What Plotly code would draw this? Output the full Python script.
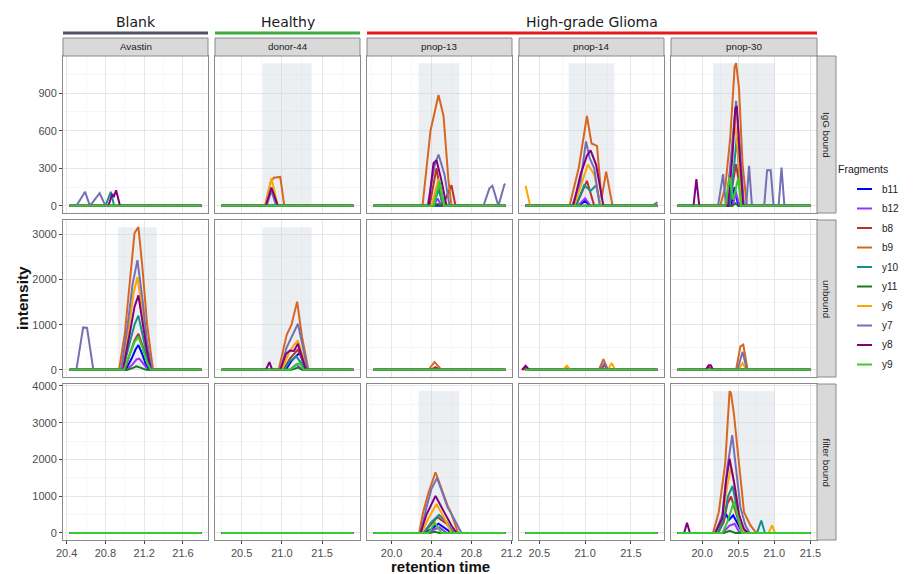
import plotly.graph_objects as go

W, H = 918, 574

# ---------------- data ----------------
samples = ["Avastin", "donor-44", "pnop-13", "pnop-14", "pnop-30"]
fractions = ["IgG bound", "unbound", "filter bound"]
fragments = ["b11", "b12", "b8", "b9", "y10", "y11", "y6", "y7", "y8", "y9"]
frag_colors = ["#0000FF", "#9B30FF", "#B8312F", "#D9661E", "#12918A",
               "#1B7A1B", "#FFA500", "#7570B3", "#800080", "#33CC33"]

groups = ["Blank", "Healthy", "High-grade Glioma"]
group_first_sample = [0, 1, 2]
group_last_sample = [0, 1, 4]
group_colors = ["#4F5563", "#3DAE3D", "#E3191C"]

# retention time window of every sample (column)
rt_start = [20.43, 20.25, 19.82, 20.35, 19.66]
rt_end = [21.79, 21.89, 21.14, 21.79, 21.50]

# highlighted elution windows (sample, fraction) -> (start, end)
window_sample = ["donor-44", "pnop-13", "pnop-14", "pnop-30", "Avastin", "donor-44", "pnop-13", "pnop-30"]
window_fraction = ["IgG bound", "IgG bound", "IgG bound", "IgG bound", "unbound", "unbound", "filter bound", "filter bound"]
window_start = [20.76, 20.27, 20.82, 20.15, 20.93, 20.76, 20.27, 20.15]
window_end = [21.37, 20.68, 21.32, 21.00, 21.33, 21.37, 20.68, 21.00]

# peaks: fragment -> list of (retention time, intensity); all other points are 0
avastin_igg = {
    "y7": [(20.50, 0), (20.59, 112), (20.64, 0), (20.74, 101), (20.80, 0)],
    "y10": [(20.80, 0), (20.855, 112), (20.89, 0)],
    "y8": [(20.83, 0), (20.87, 95), (20.885, 70), (20.91, 125), (20.95, 0)],
}
donor44_igg = {
    "b9": [(20.79, 0), (20.86, 190), (20.90, 225), (20.98, 231), (21.03, 0)],
    "y6": [(20.80, 0), (20.87, 220), (20.95, 0)],
    "y7": [(20.81, 0), (20.87, 120), (20.93, 0)],
    "y8": [(20.80, 0), (20.87, 147), (20.95, 0)],
}
pnop13_igg = {
    "b12": [(20.42, 0), (20.46, 60), (20.50, 0)],
    "b8": [(20.38, 0), (20.45, 300), (20.51, 0), (20.60, 165), (20.64, 0)],
    "b9": [(20.31, 0), (20.39, 600), (20.47, 886), (20.52, 720), (20.57, 200), (20.60, 0)],
    "y10": [(20.42, 0), (20.47, 130), (20.52, 0)],
    "y11": [(20.43, 0), (20.46, 15), (20.50, 0)],
    "y6": [(20.40, 0), (20.47, 215), (20.53, 0)],
    "y7": [(20.36, 0), (20.43, 320), (20.47, 410), (20.53, 250), (20.58, 0),
           (20.92, 0), (20.98, 140), (21.01, 160), (21.07, 0), (21.13, 170), (21.14, 175)],
    "y8": [(20.37, 0), (20.42, 340), (20.45, 365), (20.50, 200), (20.55, 0)],
    "y9": [(20.42, 0), (20.48, 200), (20.53, 0)],
}
pnop14_igg = {
    "b11": [(20.93, 0), (21.00, 40), (21.05, 0)],
    "b12": [(20.92, 0), (21.00, 60), (21.06, 0)],
    "b8": [(20.90, 0), (21.02, 200), (21.10, 0)],
    "b9": [(20.83, 0), (20.93, 300), (21.02, 718), (21.07, 498), (21.13, 479),
           (21.18, 60), (21.23, 274), (21.30, 0)],
    "y10": [(20.90, 0), (20.99, 165), (21.06, 120), (21.12, 165), (21.17, 0)],
    "y6": [(20.35, 160), (20.40, 0), (20.88, 0), (20.97, 200), (21.03, 330), (21.10, 250), (21.17, 0)],
    "y7": [(20.86, 0), (20.95, 200), (21.01, 514), (21.05, 380), (21.10, 300), (21.16, 0),
           (21.74, 0), (21.79, 30)],
    "y8": [(20.87, 0), (20.95, 250), (21.02, 400), (21.06, 444), (21.12, 330), (21.20, 0)],
}
pnop30_igg = {
    "b11": [(20.40, 0), (20.45, 150), (20.50, 0)],
    "b12": [(20.42, 0), (20.47, 100), (20.52, 0)],
    "b8": [(20.38, 0), (20.43, 200), (20.47, 333), (20.52, 150), (20.56, 0)],
    "b9": [(20.25, 0), (20.32, 150), (20.39, 546), (20.45, 1110), (20.47, 1140),
           (20.51, 945), (20.56, 333), (20.62, 0)],
    "y10": [(20.38, 0), (20.44, 300), (20.48, 550), (20.52, 200), (20.56, 0)],
    "y11": [(20.42, 0), (20.46, 20), (20.50, 0)],
    "y6": [(20.33, 0), (20.40, 350), (20.45, 700), (20.50, 400), (20.56, 0)],
    "y7": [(20.22, 0), (20.29, 253), (20.33, 0), (20.37, 200), (20.42, 500), (20.47, 838),
           (20.52, 500), (20.58, 0), (20.61, 0), (20.65, 319), (20.69, 0), (20.86, 0),
           (20.90, 285), (20.95, 285), (20.99, 0), (21.06, 0), (21.10, 306), (21.14, 0)],
    "y8": [(19.88, 0), (19.92, 213), (19.96, 0), (20.36, 0), (20.42, 400), (20.46, 780),
           (20.48, 798), (20.52, 400), (20.57, 0)],
    "y9": [(20.32, 0), (20.38, 230), (20.43, 50), (20.50, 220), (20.54, 0)],
}
avastin_unb = {
    "b11": [(21.01, 0), (21.07, 250), (21.11, 450), (21.14, 550), (21.18, 350), (21.22, 100), (21.26, 0)],
    "b12": [(21.02, 0), (21.08, 120), (21.12, 230), (21.15, 250), (21.19, 150), (21.24, 0)],
    "b8": [(21.00, 0), (21.06, 400), (21.10, 650), (21.14, 800), (21.18, 550), (21.23, 200), (21.27, 0)],
    "b9": [(20.94, 0), (21.00, 800), (21.06, 2200), (21.10, 3030), (21.14, 3160),
           (21.18, 2300), (21.23, 1000), (21.29, 0)],
    "y10": [(20.98, 0), (21.05, 600), (21.10, 1000), (21.14, 1200), (21.18, 800), (21.23, 300), (21.27, 0)],
    "y11": [(21.03, 0), (21.09, 50), (21.12, 80), (21.16, 50), (21.22, 0)],
    "y6": [(20.97, 0), (21.04, 900), (21.09, 1700), (21.13, 2050), (21.18, 1300), (21.23, 500), (21.27, 0)],
    "y7": [(20.50, 0), (20.57, 940), (20.61, 930), (20.675, 0), (20.96, 0), (21.03, 1000),
           (21.08, 1900), (21.13, 2430), (21.18, 1600), (21.23, 600), (21.28, 0)],
    "y8": [(20.98, 0), (21.05, 800), (21.10, 1400), (21.14, 1650), (21.18, 1100), (21.23, 400), (21.27, 0)],
    "y9": [(20.99, 0), (21.06, 400), (21.10, 620), (21.14, 730), (21.18, 500), (21.23, 150), (21.27, 0)],
}
donor44_unb = {
    "b11": [(21.05, 0), (21.12, 200), (21.22, 380), (21.27, 150), (21.31, 0)],
    "b12": [(21.10, 0), (21.18, 120), (21.25, 0)],
    "b8": [(21.02, 0), (21.10, 250), (21.20, 450), (21.25, 250), (21.30, 0)],
    "b9": [(20.96, 0), (21.06, 778), (21.12, 1000), (21.19, 1511), (21.25, 740), (21.33, 0)],
    "y10": [(21.03, 0), (21.10, 200), (21.18, 300), (21.24, 150), (21.29, 0)],
    "y11": [(21.12, 0), (21.20, 50), (21.26, 0)],
    "y6": [(21.00, 0), (21.08, 350), (21.15, 550), (21.20, 650), (21.25, 350), (21.31, 0)],
    "y7": [(20.98, 0), (21.06, 500), (21.14, 800), (21.20, 1020), (21.25, 600), (21.32, 0)],
    "y8": [(20.80, 0), (20.845, 170), (20.88, 0), (20.98, 0), (21.05, 350), (21.10, 430),
           (21.15, 420), (21.20, 580), (21.25, 300), (21.30, 0)],
    "y9": [(21.10, 0), (21.17, 100), (21.22, 150), (21.27, 0)],
}
pnop13_unb = {
    "b8": [(20.39, 0), (20.44, 60), (20.49, 0)],
    "b9": [(20.37, 0), (20.43, 175), (20.50, 0)],
}
pnop14_unb = {
    "b8": [(20.32, 0), (20.355, 50), (20.39, 0), (21.17, 0), (21.21, 100), (21.25, 0)],
    "b9": [(21.15, 0), (21.20, 240), (21.25, 0)],
    "y6": [(20.76, 0), (20.80, 90), (20.84, 0), (21.25, 0), (21.29, 150), (21.33, 0)],
    "y7": [(21.16, 0), (21.21, 150), (21.25, 0)],
    "y8": [(20.31, 0), (20.35, 90), (20.39, 0)],
}
pnop30_unb = {
    "b8": [(20.05, 0), (20.09, 80), (20.13, 0)],
    "b9": [(20.47, 0), (20.53, 520), (20.57, 560), (20.63, 0)],
    "y6": [(20.50, 0), (20.56, 150), (20.61, 0)],
    "y7": [(20.49, 0), (20.56, 400), (20.62, 0)],
    "y8": [(20.05, 0), (20.09, 100), (20.12, 100), (20.15, 0)],
}
pnop13_flt = {
    "b11": [(20.34, 0), (20.42, 150), (20.47, 250), (20.55, 100), (20.60, 0)],
    "b12": [(20.35, 0), (20.43, 100), (20.48, 150), (20.55, 0)],
    "b8": [(20.32, 0), (20.40, 250), (20.46, 430), (20.55, 250), (20.62, 0)],
    "b9": [(20.276, 0), (20.316, 563), (20.37, 1100), (20.44, 1651), (20.50, 1187),
           (20.56, 750), (20.60, 517), (20.666, 0)],
    "y10": [(20.32, 0), (20.40, 300), (20.476, 490), (20.55, 300), (20.62, 0)],
    "y11": [(20.38, 0), (20.43, 30), (20.48, 0)],
    "y6": [(20.30, 0), (20.37, 400), (20.45, 785), (20.52, 450), (20.60, 0)],
    "y7": [(20.29, 0), (20.35, 700), (20.40, 1200), (20.456, 1500), (20.52, 1000),
           (20.56, 700), (20.60, 517), (20.70, 0)],
    "y8": [(20.29, 0), (20.35, 500), (20.44, 1008), (20.52, 600), (20.60, 200), (20.65, 0)],
    "y9": [(20.37, 0), (20.433, 276), (20.50, 0)],
}
pnop30_flt = {
    "b11": [(20.22, 0), (20.33, 517), (20.37, 350), (20.43, 480), (20.50, 200), (20.56, 0)],
    "b12": [(20.28, 0), (20.38, 200), (20.45, 250), (20.52, 0)],
    "b8": [(20.22, 0), (20.30, 300), (20.35, 800), (20.40, 991), (20.46, 600), (20.53, 150), (20.60, 0)],
    "b9": [(20.15, 0), (20.23, 563), (20.32, 1903), (20.38, 3860), (20.40, 3800), (20.44, 3243),
           (20.51, 1900), (20.58, 563), (20.67, 204), (20.75, 0)],
    "y10": [(20.22, 0), (20.30, 400), (20.36, 1000), (20.42, 1276), (20.48, 700), (20.55, 200),
            (20.62, 0), (20.76, 0), (20.82, 338), (20.87, 0)],
    "y11": [(20.30, 0), (20.38, 60), (20.46, 0)],
    "y6": [(20.18, 0), (20.28, 400), (20.35, 1300), (20.40, 1800), (20.46, 1200), (20.52, 400),
           (20.58, 0), (20.92, 0), (20.97, 204), (21.01, 0)],
    "y7": [(20.18, 0), (20.28, 500), (20.35, 1800), (20.417, 2661), (20.47, 1800), (20.53, 700),
           (20.60, 200), (20.66, 0)],
    "y8": [(19.75, 0), (19.79, 276), (19.83, 0), (20.18, 0), (20.28, 400), (20.33, 1400),
           (20.38, 2018), (20.44, 1400), (20.51, 500), (20.58, 100), (20.64, 0)],
    "y9": [(20.28, 0), (20.35, 300), (20.44, 847), (20.50, 400), (20.55, 0)],
}
empty = {}

panel_peaks = [
    [avastin_igg, donor44_igg, pnop13_igg, pnop14_igg, pnop30_igg],
    [avastin_unb, donor44_unb, pnop13_unb, pnop14_unb, pnop30_unb],
    [empty, empty, pnop13_flt, empty, pnop30_flt],
]

# axis ticks
x_tick0 = [20.4, 20.5, 20.0, 20.5, 20.0]
x_dtick = [0.4, 0.5, 0.4, 0.5, 0.5]
y_dtick = [300, 1000, 1000]

# ---------------- layout geometry (pixels) ----------------
col_px = [(63, 208), (215, 360), (367, 512), (519, 664), (671, 817)]
row_px = [(56, 213), (220, 377), (384, 540)]
strip_top = 38
strip_right = 836
FONT = "Liberation Sans, Arial, sans-serif"


def px(x):
    return x / W


def py(y):
    return 1 - y / H


def full_series(pts, t0, t1):
    xs = [p[0] for p in pts]
    ys = [p[1] for p in pts]
    if not xs or xs[0] > t0 + 1e-6:
        xs = [t0] + xs
        ys = [0] + ys
    if xs[-1] < t1 - 1e-6:
        xs = xs + [t1]
        ys = ys + [0]
    return xs, ys


fig = go.Figure()

row_max = []
for r in range(3):
    m = 0
    for c in range(5):
        for f, pts in panel_peaks[r][c].items():
            for _, v in pts:
                m = max(m, v)
    row_max.append(m)

for fi, frag in enumerate(fragments):
    for r in range(3):
        for c in range(5):
            k = r * 5 + c + 1
            pts = panel_peaks[r][c].get(frag, [])
            xs, ys = full_series(pts, rt_start[c], rt_end[c])
            fig.add_trace(go.Scatter(
                x=xs, y=ys, mode="lines",
                line=dict(color=frag_colors[fi], width=2),
                name=frag, showlegend=False,
                xaxis=f"x{k}", yaxis=f"y{k}", hoverinfo="skip"))

layout = dict(
    width=W, height=H, autosize=False,
    margin=dict(l=0, r=0, t=0, b=0, pad=0, autoexpand=False),
    paper_bgcolor="white", plot_bgcolor="white", showlegend=False,
    font=dict(family=FONT, color="#4D4D4D", size=11),
)

shapes = []
annotations = []


def note(x, y, text, size, color="#1A1A1A", xanchor="center", yanchor="middle",
         angle=0, family=FONT):
    annotations.append(dict(xref="paper", yref="paper", x=x, y=y, text=text,
                            showarrow=False, xanchor=xanchor, yanchor=yanchor,
                            textangle=angle,
                            font=dict(family=family, size=size, color=color)))


for r in range(3):
    for c in range(5):
        k = r * 5 + c + 1
        span = rt_end[c] - rt_start[c]
        ymax = row_max[r]
        xa = dict(
            domain=[px(col_px[c][0]), px(col_px[c][1])],
            range=[rt_start[c] - 0.05 * span, rt_end[c] + 0.05 * span],
            anchor=f"y{k}", tick0=x_tick0[c], dtick=x_dtick[c], tickmode="linear",
            tickformat=".1f", showgrid=True, gridcolor="#E6E6E6", gridwidth=1,
            minor=dict(showgrid=True, gridcolor="#F2F2F2", gridwidth=0.6,
                       dtick=x_dtick[c] / 2, tick0=x_tick0[c]),
            showline=True, linecolor="#8A8A8A", linewidth=1, mirror=True,
            zeroline=False, fixedrange=True, automargin=False,
            showticklabels=(r == 2), ticks="outside" if r == 2 else "",
            ticklen=3, tickcolor="#444444",
            tickfont=dict(family=FONT, size=11, color="#4D4D4D"),
        )
        ya = dict(
            domain=[py(row_px[r][1]), py(row_px[r][0])],
            range=[-0.05 * ymax, 1.05 * ymax],
            anchor=f"x{k}", tick0=0, dtick=y_dtick[r], tickmode="linear",
            showgrid=True, gridcolor="#E6E6E6", gridwidth=1,
            minor=dict(showgrid=True, gridcolor="#F2F2F2", gridwidth=0.6,
                       dtick=y_dtick[r] / 2, tick0=0),
            showline=True, linecolor="#8A8A8A", linewidth=1, mirror=True,
            zeroline=False, fixedrange=True, automargin=False,
            showticklabels=(c == 0), ticks="outside" if c == 0 else "",
            ticklen=3, tickcolor="#444444",
            tickfont=dict(family=FONT, size=11, color="#4D4D4D"),
        )
        layout[f"xaxis{k}"] = xa
        layout[f"yaxis{k}"] = ya

# highlighted windows
for s, fr, x0, x1 in zip(window_sample, window_fraction, window_start, window_end):
    c = samples.index(s)
    r = fractions.index(fr)
    k = r * 5 + c + 1
    shapes.append(dict(type="rect", xref=f"x{k}", yref=f"y{k}", x0=x0, x1=x1,
                       y0=0, y1=row_max[r], fillcolor="rgba(205,212,222,0.38)",
                       line=dict(width=0), layer="between"))

# top strips
for c, s in enumerate(samples):
    shapes.append(dict(type="rect", xref="paper", yref="paper",
                       x0=px(col_px[c][0]), x1=px(col_px[c][1]),
                       y0=py(row_px[0][0]), y1=py(strip_top),
                       fillcolor="#D9D9D9", line=dict(color="#8A8A8A", width=1)))
    note(px((col_px[c][0] + col_px[c][1]) / 2), py((strip_top + row_px[0][0]) / 2), s, 9.8)

# right strips
for r, fr in enumerate(fractions):
    shapes.append(dict(type="rect", xref="paper", yref="paper",
                       x0=px(col_px[4][1]), x1=px(strip_right),
                       y0=py(row_px[r][1]), y1=py(row_px[r][0]),
                       fillcolor="#D9D9D9", line=dict(color="#8A8A8A", width=1)))
    note(px((col_px[4][1] + strip_right) / 2), py((row_px[r][0] + row_px[r][1]) / 2),
         fr, 9.8, angle=90)

# group headers
for g, a, b, col in zip(groups, group_first_sample, group_last_sample, group_colors):
    x0 = col_px[a][0]
    x1 = col_px[b][1]
    shapes.append(dict(type="line", xref="paper", yref="paper",
                       x0=px(x0), x1=px(x1), y0=py(33), y1=py(33),
                       line=dict(color=col, width=3)))
    note(px((x0 + x1) / 2), py(22), g, 14, family="DejaVu Sans, sans-serif")

# axis titles
note(px(22), py(298), "<b>intensity</b>", 15.5, color="#111111", angle=-90)
note(px(440), py(566), "<b>retention time</b>", 15, color="#111111")

# legend (drawn)
note(px(836), py(169), "Fragments", 10.5, xanchor="left")
for i, (frag, col) in enumerate(zip(fragments, frag_colors)):
    yy = 189 + 19.5 * i
    shapes.append(dict(type="line", xref="paper", yref="paper",
                       x0=px(857), x1=px(872), y0=py(yy), y1=py(yy),
                       line=dict(color=col, width=2)))
    note(px(880), py(yy), frag, 10, xanchor="left")

layout["shapes"] = shapes
layout["annotations"] = annotations
fig.update_layout(**layout)
fig.write_html(
    "out.html",
    config={"displayModeBar": False, "staticPlot": True},
    post_script="document.documentElement.style.margin='0';"
                "document.body.style.margin='0';document.body.style.padding='0';"
                "document.body.style.overflow='hidden';",
)
